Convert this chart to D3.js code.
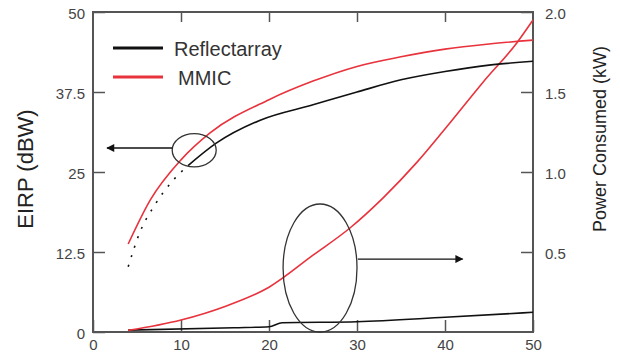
<!DOCTYPE html>
<html lang="en">
<head>
    <meta charset="UTF-8">
    <title>EIRP and power consumed</title>
    <style>
        * { margin: 0; padding: 0; }
        html, body { overflow: hidden; background: #fff; }
    </style>
</head>
<body>
    <div id="chart"></div>
    <script src="https://cdn.jsdelivr.net/npm/d3@7"></script>
    <script>
        // EIRP (left axis, dBW)
        const mmicEirpX = [4, 6.5, 10, 13.3, 20, 25, 30, 35, 40, 45, 50]
        const mmicEirp = [13.75, 20.6, 26.9, 31.1, 36.3, 39.2, 41.5, 43, 44.2, 45, 45.6]
        const refEirpDashX = [4, 5.3, 7, 9.3, 10.8]
        const refEirpDash = [10.2, 15.5, 19.8, 24, 26]
        const refEirpX = [10.8, 14, 19, 25, 30, 35, 40, 45, 50]
        const refEirp = [26, 29.5, 33.1, 35.5, 37.5, 39.4, 40.7, 41.7, 42.3]

        // power consumed (right axis, kW)
        const mmicPowerX = [4, 10, 15, 20, 25, 29.2, 33, 36.8, 40.6, 44.3, 48.2, 50]
        const mmicPower = [0.01, 0.075, 0.16, 0.28, 0.48, 0.65, 0.84, 1.06, 1.31, 1.56, 1.81, 1.95]
        const refPowerX = [4, 16, 20, 21.5, 30, 40, 50]
        const refPower = [0.012, 0.027, 0.033, 0.058, 0.064, 0.092, 0.123]

        const xTicks = [0, 10, 20, 30, 40, 50]
        const leftTicks = [0, 12.5, 25, 37.5, 50]
        const rightTicks = [0.5, 1.0, 1.5, 2.0]

        const seriesNames = ['Reflectarray', 'MMIC']
        const seriesColors = ['#111', '#e8323c']

        function drawChart() {
            const width = 620
            const height = 360
            const svg = d3.select('#chart')
                .append('svg')
                .attr('width', width)
                .attr('height', height)

            const x = d3.scaleLinear().domain([0, 50]).range([93, 533])
            const yL = d3.scaleLinear().domain([0, 50]).range([332, 12])
            const yR = d3.scaleLinear().domain([0, 2]).range([332, 12])

            const tickFont = 'Liberation Sans, Arial, sans-serif'
            const frame = '#555'

            // frame
            svg.append('rect')
                .attr('x', x(0)).attr('y', yL(50))
                .attr('width', x(50) - x(0)).attr('height', yL(0) - yL(50))
                .attr('fill', 'none').attr('stroke', frame).attr('stroke-width', 2)

            // inward ticks
            const bottom = svg.append('g').attr('transform', `translate(0,${yL(0)})`)
                .call(d3.axisBottom(x).tickValues(xTicks).tickSizeInner(-12).tickSizeOuter(0).tickPadding(7))
            const top = svg.append('g').attr('transform', `translate(0,${yL(50)})`)
                .call(d3.axisTop(x).tickValues(xTicks.slice(1, -1)).tickSizeInner(-10).tickSizeOuter(0).tickFormat(''))
            const left = svg.append('g').attr('transform', `translate(${x(0)},0)`)
                .call(d3.axisLeft(yL).tickValues(leftTicks).tickSizeInner(-12).tickSizeOuter(0).tickPadding(8)
                    .tickFormat(d => d))
            const right = svg.append('g').attr('transform', `translate(${x(50)},0)`)
                .call(d3.axisRight(yR).tickValues(rightTicks).tickSizeInner(-12).tickSizeOuter(0).tickPadding(12)
                    .tickFormat(d3.format('.1f')))

            ;[bottom, top, left, right].forEach(g => {
                g.select('.domain').remove()
                g.selectAll('line').attr('stroke', frame).attr('stroke-width', 1.5)
                g.selectAll('text').attr('font-family', tickFont).attr('font-size', 15).attr('fill', '#444')
            })
            left.selectAll('text').attr('dy', '0.4em')
            right.selectAll('text').attr('dy', '0.4em')

            // lines
            const lineL = d3.line().x(d => x(d[0])).y(d => yL(d[1])).curve(d3.curveMonotoneX)
            const lineR = d3.line().x(d => x(d[0])).y(d => yR(d[1])).curve(d3.curveMonotoneX)
            const zip = (a, b) => a.map((v, i) => [v, b[i]])

            const g = svg.append('g').attr('fill', 'none').attr('stroke-width', 1.6)
            g.append('path').attr('d', lineR(zip(refPowerX, refPower))).attr('stroke', seriesColors[0])
            g.append('path').attr('d', lineR(zip(mmicPowerX, mmicPower))).attr('stroke', seriesColors[1])
            g.append('path').attr('d', lineL(zip(refEirpX, refEirp))).attr('stroke', seriesColors[0])
            g.append('path').attr('d', lineL(zip(refEirpDashX, refEirpDash))).attr('stroke', seriesColors[0])
                .attr('stroke-dasharray', '2,8')
            g.append('path').attr('d', lineL(zip(mmicEirpX, mmicEirp))).attr('stroke', seriesColors[1])

            // annotations: ellipses and arrows
            svg.append('defs').append('marker')
                .attr('id', 'head').attr('viewBox', '0 0 10 10')
                .attr('refX', 9).attr('refY', 5)
                .attr('markerWidth', 10).attr('markerHeight', 8)
                .attr('markerUnits', 'userSpaceOnUse')
                .attr('orient', 'auto')
                .append('path').attr('d', 'M0,0L10,5L0,10Z').attr('fill', '#111')

            const ann = svg.append('g').attr('fill', 'none').attr('stroke', '#333').attr('stroke-width', 1.3)
            ann.append('ellipse')
                .attr('cx', x(11.5)).attr('cy', yL(28.4))
                .attr('rx', x(2.5) - x(0)).attr('ry', yL(0) - yL(2.6))
            ann.append('line')
                .attr('x1', x(9.0)).attr('y1', yL(28.75))
                .attr('x2', x(1.6)).attr('y2', yL(28.75))
                .attr('stroke', '#111').attr('marker-end', 'url(#head)')
            ann.append('ellipse')
                .attr('cx', x(25.8)).attr('cy', yR(0.4))
                .attr('rx', x(4.2) - x(0)).attr('ry', yR(0) - yR(0.4))
            ann.append('line')
                .attr('x1', x(30.1)).attr('y1', yR(0.456))
                .attr('x2', x(42.0)).attr('y2', yR(0.456))
                .attr('stroke', '#111').attr('marker-end', 'url(#head)')

            // legend
            const legend = svg.append('g')
            seriesNames.forEach((name, i) => {
                const ly = 48 + i * 29
                legend.append('line')
                    .attr('x1', 113).attr('x2', 163).attr('y1', ly).attr('y2', ly)
                    .attr('stroke', seriesColors[i]).attr('stroke-width', 3)
                legend.append('text')
                    .attr('x', i === 0 ? 174 : 178).attr('y', ly + 8)
                    .attr('font-family', tickFont).attr('font-size', 20).attr('fill', '#333')
                    .text(name)
            })

            // axis titles
            svg.append('text')
                .attr('transform', `translate(33,169) rotate(-90)`)
                .attr('text-anchor', 'middle')
                .attr('font-family', tickFont).attr('font-size', 22).attr('fill', '#222')
                .text('EIRP (dBW)')
            svg.append('text')
                .attr('transform', `translate(606,139) rotate(-90)`)
                .attr('text-anchor', 'middle')
                .attr('font-family', tickFont).attr('font-size', 18).attr('fill', '#222')
                .text('Power Consumed (kW)')
        }

        drawChart()
    </script>
</body>
</html>
